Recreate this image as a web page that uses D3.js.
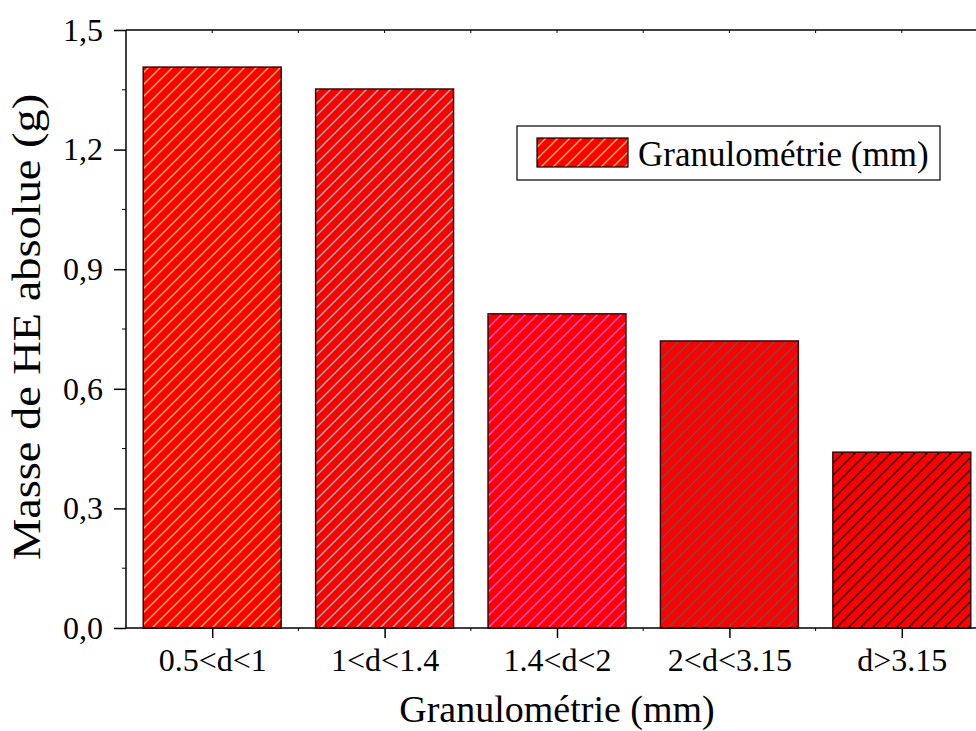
<!DOCTYPE html>
<html>
<head>
<meta charset="utf-8">
<script src="https://cdn.jsdelivr.net/npm/d3@7/dist/d3.min.js"></script>
<style>
html,body{margin:0;padding:0;background:#fff;}
svg{display:block;}
svg text{font-family:"Liberation Serif","DejaVu Serif",serif;fill:#000;}
</style>
</head>
<body>
<svg id="chart" width="976" height="731" font-family="Liberation Serif"></svg>
<script>
const categories = ["0.5<d<1", "1<d<1.4", "1.4<d<2", "2<d<3.15", "d>3.15"];
const values = [1.407, 1.352, 0.788, 0.720, 0.441];
const hatchColors = ["#f5c860", "#8ccccc", "#ff55ff", "#5a5a5a", "#000000"];
const yTicks = [0, 0.3, 0.6, 0.9, 1.2, 1.5];
const yMinorTicks = [0.15, 0.45, 0.75, 1.05, 1.35];
const xTitle = "Granulométrie (mm)";
const yTitle = "Masse de HE absolue (g)";
const legendLabel = "Granulométrie (mm)";

const FONT = "'Liberation Serif', 'DejaVu Serif', serif";
const svg = d3.select("#chart");
const pLeft = 126, pRight = 988, pTop = 30, pBottom = 628;

const x = d3.scaleBand().domain(categories).range([pLeft, pRight]).paddingInner(0.2).paddingOuter(0.1);
const y = d3.scaleLinear().domain([0, 1.5]).range([pBottom, pTop]);

const defs = svg.append("defs");
hatchColors.forEach((c, i) => {
  const p = defs.append("pattern").attr("id", "hatch" + i)
    .attr("patternUnits", "userSpaceOnUse").attr("width", 12).attr("height", 12);
  p.append("rect").attr("width", 12).attr("height", 12).attr("fill", "#ff0000");
  p.append("path").attr("d", "M-3,3 L3,-3 M0,12 L12,0 M9,15 L15,9")
    .attr("stroke", c).attr("stroke-width", 1.3).attr("fill", "none");
});

// bars
svg.append("g").selectAll("rect").data(categories).join("rect")
  .attr("x", d => x(d))
  .attr("y", (d, i) => y(values[i]))
  .attr("width", x.bandwidth())
  .attr("height", (d, i) => y(0) - y(values[i]))
  .attr("fill", (d, i) => "url(#hatch" + i + ")")
  .attr("stroke", "#3a0808").attr("stroke-width", 1.5);

// bottom axis (major ticks at centers)
const step = x.step();
const xc = d => x(d) + x.bandwidth() / 2;
const gx = svg.append("g").attr("transform", `translate(0,${pBottom})`)
  .call(d3.axisBottom(d3.scalePoint().domain(categories).range([xc(categories[0]), xc(categories[4])]))
    .tickSize(10).tickPadding(10));
gx.attr("font-family", FONT).attr("font-size", 32);
gx.select(".domain").remove();
gx.selectAll("line").attr("stroke", "#000").attr("stroke-width", 1.5);
gx.selectAll("text").attr("font-size", 32).style("font-family", FONT);

// axis lines
svg.append("line").attr("x1", pLeft).attr("x2", 976).attr("y1", pBottom).attr("y2", pBottom).attr("stroke", "#000").attr("stroke-width", 1.5);
svg.append("line").attr("x1", pLeft).attr("x2", 976).attr("y1", pTop).attr("y2", pTop).attr("stroke", "#000").attr("stroke-width", 1.5);

// minor x ticks at boundaries
const bounds = categories.slice(1).map(d => xc(d) - step / 2);
svg.append("g").selectAll("line").data(bounds).join("line")
  .attr("x1", d => d).attr("x2", d => d).attr("y1", pBottom).attr("y2", pBottom + 3)
  .attr("stroke", "#000").attr("stroke-width", 1);
// top ticks (inward, small)
svg.append("g").selectAll("line").data(categories.map(xc).concat(bounds)).join("line")
  .attr("x1", d => d).attr("x2", d => d).attr("y1", pTop).attr("y2", pTop + 3)
  .attr("stroke", "#000").attr("stroke-width", 1);

// left axis
const gy = svg.append("g").attr("transform", `translate(${pLeft},0)`)
  .call(d3.axisLeft(y).tickValues(yTicks).tickSize(12).tickPadding(11)
    .tickFormat(d => d3.format(".1f")(d).replace(".", ",")));
gy.attr("font-family", FONT).attr("font-size", 32);
gy.select(".domain").attr("stroke", "#000").attr("stroke-width", 1.5).attr("d", `M0,${pBottom}V${pTop}`);
gy.selectAll("line").attr("stroke", "#000").attr("stroke-width", 1.5);
gy.selectAll("text").attr("font-size", 32).style("font-family", FONT);
svg.append("g").selectAll("line").data(yMinorTicks).join("line")
  .attr("x1", pLeft - 4).attr("x2", pLeft).attr("y1", d => y(d)).attr("y2", d => y(d))
  .attr("stroke", "#000").attr("stroke-width", 1);

// titles
svg.append("text").attr("x", 557).attr("y", 722).attr("text-anchor", "middle")
  .attr("font-size", 38).style("font-family", FONT).text(xTitle);
svg.append("text").attr("transform", "translate(40,327) rotate(-90) scale(1.16,1)").attr("text-anchor", "middle")
  .attr("font-size", 40).style("font-family", FONT).text(yTitle);

// legend
const lg = svg.append("g");
lg.append("rect").attr("x", 517).attr("y", 126).attr("width", 423).attr("height", 54)
  .attr("fill", "#fff").attr("stroke", "#000").attr("stroke-width", 1.2);
lg.append("rect").attr("x", 537).attr("y", 138).attr("width", 91).attr("height", 29)
  .attr("fill", "url(#hatch0)").attr("stroke", "#000").attr("stroke-width", 1.2);
lg.append("text").attr("x", 638).attr("y", 166).attr("font-size", 35).style("font-family", FONT).text(legendLabel);
</script>
</body>
</html>
